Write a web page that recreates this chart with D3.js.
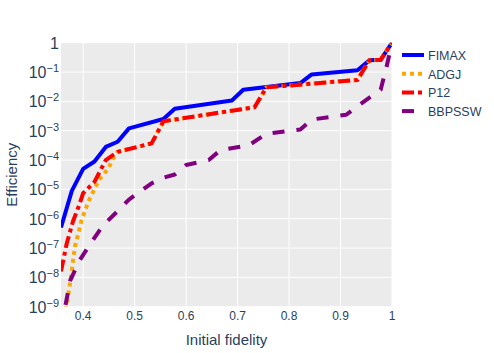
<!DOCTYPE html>
<html>
<head>
<meta charset="utf-8">
<script src="https://cdn.jsdelivr.net/npm/d3@7"></script>
<style>
  body { margin: 0; background: #fff; }
  svg { display: block; font-family: Arial, "Liberation Sans", sans-serif; }
</style>
</head>
<body>
<svg id="chart" width="494" height="353"></svg>
<script>
'use strict';

// initial fidelity (x) and efficiency (y)
var fimaxF = [0.357, 0.378, 0.4, 0.422, 0.444, 0.467, 0.489, 0.556, 0.578, 0.689, 0.711, 0.822, 0.844, 0.933, 0.956, 0.978, 1.0];
var fimaxE = [5.0e-7, 8.9e-6, 5.0e-5, 8.9e-5, 2.8e-4, 4.2e-4, 1.2e-3, 2.5e-3, 5.6e-3, 1.07e-2, 2.5e-2, 4.2e-2, 8.3e-2, 0.115, 0.25, 0.26, 1];

var adgjF = [0.357, 0.368, 0.375, 0.384, 0.397, 0.41, 0.43, 0.449, 0.458, 0.467, 0.533, 0.556, 0.733, 0.756, 0.933, 0.956, 0.978, 1.0];
var adgjE = [6.3e-11, 1.1e-9, 7.1e-9, 1.1e-7, 8.9e-7, 3.8e-6, 2.0e-5, 5.2e-5, 1.1e-4, 1.9e-4, 3.7e-4, 2.1e-3, 6.3e-3, 3.0e-2, 5.4e-2, 0.25, 0.26, 1];

var p12F = [0.357, 0.368, 0.38, 0.392, 0.4, 0.422, 0.444, 0.467, 0.533, 0.556, 0.733, 0.756, 0.933, 0.956, 0.978, 1.0];
var p12E = [1.6e-8, 1.4e-7, 7.9e-7, 2.8e-6, 7.4e-6, 1.8e-5, 1.0e-4, 1.9e-4, 3.7e-4, 2.1e-3, 6.3e-3, 3.0e-2, 5.4e-2, 0.25, 0.26, 1];

var bbpsswF = [0.357, 0.375, 0.394, 0.414, 0.439, 0.467, 0.489, 0.533, 0.556, 0.578, 0.6, 0.644, 0.667, 0.722, 0.756, 0.822, 0.844, 0.911, 0.933, 0.978, 0.989, 1.0];
var bbpsswE = [1.8e-10, 7.9e-9, 4.0e-8, 1.4e-7, 6.0e-7, 1.8e-6, 4.5e-6, 1.6e-5, 2.5e-5, 3.2e-5, 6.8e-5, 1.0e-4, 2.2e-4, 3.2e-4, 7.9e-4, 1.1e-3, 2.4e-3, 3.5e-3, 6.8e-3, 2.5e-2, 0.14, 1];

var seriesNames = ['FIMAX', 'ADGJ', 'P12', 'BBPSSW'];
var xTicks = [0.4, 0.5, 0.6, 0.7, 0.8, 0.9, 1];
var xTickLabels = ['0.4', '0.5', '0.6', '0.7', '0.8', '0.9', '1'];
var yExponents = [0, -1, -2, -3, -4, -5, -6, -7, -8, -9];

var series = [
  { name: seriesNames[0], f: fimaxF, e: fimaxE, color: '#0000ff', dash: null },
  { name: seriesNames[1], f: adgjF, e: adgjE, color: '#ffa500', dash: '4,4' },
  { name: seriesNames[2], f: p12F, e: p12E, color: '#ff0000', dash: '12,4,4,4' },
  { name: seriesNames[3], f: bbpsswF, e: bbpsswE, color: '#800080', dash: '12,12' }
];

var textColor = '#2a3f5f';
var plotL = 61, plotR = 392, plotT = 42.7, plotB = 306.7;

var svg = d3.select('#chart');

var x = d3.scaleLinear().domain([0.357, 1]).range([plotL, plotR]);
var y = d3.scaleLog().domain([1e-9, 1]).range([plotB, plotT]);

svg.append('rect')
  .attr('x', plotL).attr('y', plotT)
  .attr('width', plotR - plotL).attr('height', plotB - plotT)
  .attr('fill', '#ebebeb');

svg.append('clipPath').attr('id', 'plotclip')
  .append('rect')
  .attr('x', plotL).attr('y', plotT)
  .attr('width', plotR - plotL).attr('height', plotB - plotT);

// grid
var grid = svg.append('g').attr('stroke', '#fff').attr('stroke-width', 1);
grid.selectAll('line.vx').data(xTicks).enter().append('line')
  .attr('x1', function (d) { return x(d); }).attr('x2', function (d) { return x(d); })
  .attr('y1', plotT).attr('y2', plotB);
grid.selectAll('line.hy').data(yExponents).enter().append('line')
  .attr('x1', plotL).attr('x2', plotR)
  .attr('y1', function (d) { return y(Math.pow(10, d)); })
  .attr('y2', function (d) { return y(Math.pow(10, d)); });

// x tick labels
svg.append('g').selectAll('text').data(xTicks).enter().append('text')
  .attr('x', function (d) { return x(d); })
  .attr('y', 320)
  .attr('text-anchor', 'middle')
  .attr('font-size', 12)
  .attr('fill', textColor)
  .text(function (d, i) { return xTickLabels[i]; });

// y tick labels, powers of ten
var yLab = svg.append('g').selectAll('text').data(yExponents).enter().append('text')
  .attr('x', 59)
  .attr('y', function (d) { return y(Math.pow(10, d)) + 6; })
  .attr('text-anchor', 'end')
  .attr('font-size', 16)
  .attr('fill', textColor);
yLab.each(function (d) {
  var t = d3.select(this);
  if (d === 0) { t.text('1'); return; }
  t.append('tspan').text('10');
  t.append('tspan').attr('dy', -6).attr('font-size', 11).text('\u2212' + Math.abs(d));
});

// lines
var line = d3.line()
  .x(function (d) { return x(d[0]); })
  .y(function (d) { return y(d[1]); });

var lines = svg.append('g').attr('clip-path', 'url(#plotclip)');
series.forEach(function (s) {
  var pts = s.f.map(function (v, i) { return [v, s.e[i]]; });
  lines.append('path')
    .datum(pts)
    .attr('d', line)
    .attr('fill', 'none')
    .attr('stroke', s.color)
    .attr('stroke-width', 4)
    .attr('stroke-linejoin', 'round')
    .attr('stroke-dasharray', s.dash);
});

// axis titles
svg.append('text')
  .attr('x', (plotL + plotR) / 2).attr('y', 345)
  .attr('text-anchor', 'middle').attr('font-size', 15)
  .attr('fill', textColor).text('Initial fidelity');
svg.append('text')
  .attr('transform', 'translate(16.5,' + (plotT + plotB) / 2 + ') rotate(-90)')
  .attr('text-anchor', 'middle').attr('font-size', 15)
  .attr('fill', textColor).text('Efficiency');

// legend
var legend = svg.append('g').selectAll('g').data(series).enter().append('g')
  .attr('transform', function (d, i) { return 'translate(402,' + (55 + i * 18.7) + ')'; });
legend.append('line')
  .attr('x1', 0).attr('x2', 22).attr('y1', 0).attr('y2', 0)
  .attr('stroke', function (d) { return d.color; })
  .attr('stroke-width', 4)
  .attr('stroke-dasharray', function (d) { return d.dash; });
legend.append('text')
  .attr('x', 26).attr('y', 5)
  .attr('font-size', 12.5)
  .attr('fill', textColor)
  .text(function (d) { return d.name; });
</script>
</body>
</html>
